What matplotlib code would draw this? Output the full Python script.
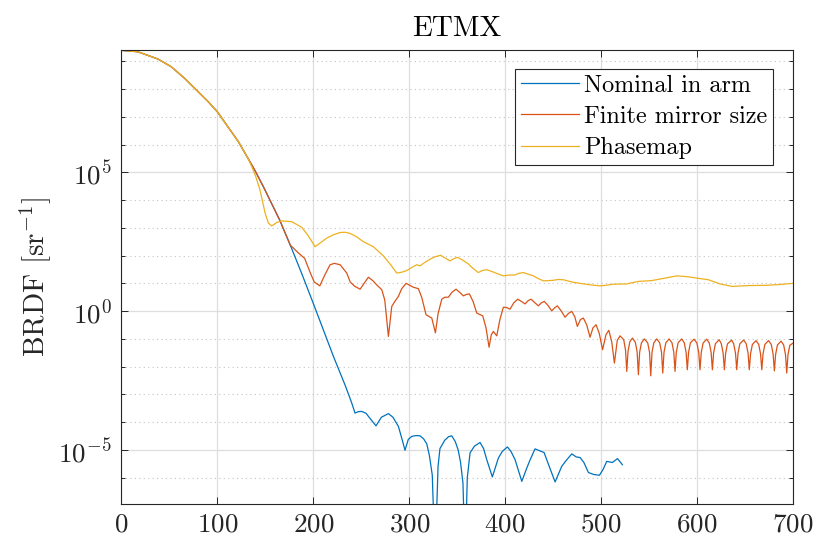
import numpy as np
import matplotlib
matplotlib.use("Agg")
import matplotlib.pyplot as plt
from matplotlib.ticker import FixedLocator, NullFormatter

plt.rcParams['font.family'] = 'serif'
plt.rcParams['font.serif'] = ['cmr10']
plt.rcParams['mathtext.fontset'] = 'cm'
plt.rcParams['axes.formatter.use_mathtext'] = True
plt.rcParams['axes.unicode_minus'] = False

# shared central lobe (all three curves overlap here), values as log10(BRDF)
head_x = [0, 17, 38, 52, 66, 80, 90, 100, 111, 122, 132]
head_log = [9.39, 9.34, 9.08, 8.80, 8.38, 7.90, 7.56, 7.18, 6.64, 6.10, 5.50]

nominal_x = head_x + [
    139, 148, 165, 176, 188, 200, 211, 221, 233, 240, 243.5, 247, 250.5, 255,
    260, 265.4, 271, 278.3, 283, 288.7, 292, 295.6, 299, 302.6, 307, 311.3,
    315, 318.3, 321, 324, 327, 330, 332, 337, 341, 344.3, 348, 351, 353.5,
    356, 358.2, 360.5, 363.4, 368, 373.8, 377.5, 380.8, 386.6, 392.9, 397,
    402.3, 406, 410.3, 417.3, 422.5, 426, 431.1, 436, 440.5, 446, 452, 458.9,
    463, 469.4, 474, 478, 482, 486.7, 492, 498.2, 502, 505.8, 511.7, 517,
    522.1]
nominal_log = head_log + [
    5.08, 4.48, 3.28, 2.38, 1.35, 0.28, -0.72, -1.63, -2.65, -3.3, -3.67,
    -3.62, -3.61, -3.68, -3.9, -4.13, -3.82, -3.69, -3.82, -4.15, -4.55,
    -5.01, -4.62, -4.51, -4.48, -4.49, -4.6, -4.78, -5.2, -5.9, -9.0, -5.6,
    -4.95, -4.65, -4.52, -4.49, -4.7, -5.0, -5.45, -6.2, -9.0, -6.0, -5.1,
    -4.86, -4.73, -4.95, -5.35, -5.97, -5.29, -5.05, -4.89, -5.05, -5.35,
    -6.13, -5.65, -5.35, -4.96, -5.03, -5.09, -5.6, -6.15, -5.59, -5.4,
    -5.14, -5.25, -5.27, -5.45, -5.81, -5.88, -5.91, -5.7, -5.41, -5.45,
    -5.31, -5.53]

finite_x = head_x + [
    139, 148, 165, 176, 184, 191, 197, 201, 206.8, 212, 217.5, 222, 228, 234.9,
    238.5, 243, 248.8, 253, 257.4, 262, 266, 271.4, 274.5, 278.3, 281.8, 285,
    288.7, 292, 296.7, 301, 304.3, 309.5, 313, 317.5, 321, 323.5, 327.3, 330,
    333.9, 337, 340.8, 344.5, 348.8, 352.5, 356.4, 359.5, 362.7, 366.5, 370.4,
    376.6, 380, 383.2, 385.5, 387.7, 391.2, 394.5, 398.1, 401.5, 405, 409,
    413.1, 416.9, 420.7, 424, 427, 431, 434.6, 437.7, 440.8, 444.7, 448.5,
    451.5, 454.4, 458.5, 462.4, 466, 469.4, 472.5, 475.2, 478.5, 481.5, 485,
    488.4, 491.5, 494.7, 498, 501.5, 505, 508, 511, 513.8, 516.8, 519.7,
    523.5, 525.4, 526.7, 528.0, 529.9, 532.6,
    535.6, 537.5, 538.8, 540.1, 542.0, 545.0,
    548.5, 550.4, 551.7, 553.0, 554.9, 557.9,
    561.0, 562.9, 564.2, 565.5, 567.4, 570.8,
    573.8, 575.7, 577.0, 578.3, 580.2, 583.9,
    586.6, 588.5, 589.8, 591.1, 593.0, 596.8,
    599.8, 601.7, 603.0, 604.3, 606.2, 610.0,
    612.7, 614.6, 615.9, 617.2, 619.1, 623.0,
    625.2, 627.1, 628.4, 629.7, 631.6, 636.0,
    638.1, 640.0, 641.3, 642.6, 644.5, 648.5,
    651.2, 653.1, 654.4, 655.7, 657.6, 661.4,
    664.2, 666.1, 667.4, 668.7, 670.6, 674.4,
    677.3, 679.2, 680.5, 681.8, 683.7, 687.5,
    690.2, 692.1, 693.4, 694.7, 696.6, 700.0]
finite_log = head_log + [
    5.08, 4.48, 3.28, 2.38, 2.11, 1.9, 1.37, 1.05, 0.91, 1.3, 1.67, 1.72, 1.67,
    1.37, 1.05, 0.9, 0.79, 1.0, 1.22, 1.1, 0.95, 0.77, 0.4, -0.91, 0.17, 0.35,
    0.53, 0.8, 1.0, 0.92, 0.86, 0.81, 0.5, -0.13, -0.2, -0.25, -0.78, -0.1,
    0.43, 0.5, 0.5, 0.68, 0.79, 0.68, 0.55, 0.6, 0.62, 0.35, -0.07, -0.17,
    -0.6, -1.3, -0.85, -0.73, -0.89, -0.3, 0.14, 0.13, 0.07, 0.3, 0.43, 0.35,
    0.26, 0.38, 0.43, 0.3, 0.19, 0.3, 0.35, 0.2, 0.01, 0.12, 0.19, 0.0, -0.22,
    -0.08, -0.01, -0.2, -0.55, -0.3, -0.25, -0.5, -0.94, -0.6, -0.49, -0.8,
    -1.39, -0.85, -0.69, -1.1, -1.87, -1.05, -0.89,
    -1.03, -1.40, -2.17, -1.45, -1.10, -0.97,
    -1.12, -1.47, -2.29, -1.48, -1.14, -1.00,
    -1.14, -1.48, -2.33, -1.48, -1.14, -1.00,
    -1.14, -1.48, -2.23, -1.48, -1.14, -1.00,
    -1.14, -1.48, -2.17, -1.48, -1.14, -1.00,
    -1.14, -1.48, -2.11, -1.48, -1.14, -1.01,
    -1.15, -1.49, -2.11, -1.49, -1.15, -1.01,
    -1.15, -1.49, -2.11, -1.50, -1.17, -1.03,
    -1.17, -1.51, -2.11, -1.52, -1.18, -1.04,
    -1.18, -1.52, -2.11, -1.52, -1.18, -1.04,
    -1.18, -1.52, -2.11, -1.53, -1.20, -1.06,
    -1.20, -1.54, -2.11, -1.54, -1.20, -1.06,
    -1.20, -1.55, -2.15, -1.56, -1.22, -1.08,
    -1.22, -1.57, -2.23, -1.57, -1.23, -1.15]

phasemap_x = head_x + [
    136, 140, 144.5, 149.8, 153.2, 156.7, 161.9, 167, 177.6, 188, 195, 201.9,
    207, 214, 221, 227.9, 233, 238.4, 245, 252.2, 262.6, 268, 273, 280, 287,
    292, 297.4, 304, 307.8, 311.3, 316, 321.7, 327, 332.8, 337, 342.5, 346,
    350.1, 355, 361.6, 366, 372, 376, 380.8, 386, 391, 398.1, 404, 410.3, 414,
    419, 424, 429.4, 434, 439.8, 445, 450.2, 455, 460.6, 466, 471, 478, 488,
    498.8, 505, 512.7, 526.7, 538.8, 552.7, 566.6, 578.8, 590, 599.6, 611.7,
    624, 636.2, 653, 672.6, 686, 700]
phasemap_log = head_log + [
    5.2, 4.85, 4.36, 3.53, 3.17, 3.07, 3.19, 3.25, 3.22, 3.02, 2.7, 2.32,
    2.45, 2.63, 2.75, 2.83, 2.84, 2.80, 2.68, 2.50, 2.32, 2.15, 1.99, 1.7,
    1.37, 1.4, 1.46, 1.6, 1.67, 1.63, 1.75, 1.87, 1.96, 2.01, 1.92, 1.81,
    1.88, 1.94, 1.85, 1.70, 1.55, 1.39, 1.46, 1.49, 1.43, 1.36, 1.27, 1.3,
    1.30, 1.36, 1.39, 1.33, 1.27, 1.18, 1.09, 1.1, 1.11, 1.14, 1.13, 1.08,
    1.04, 1.0, 0.95, 0.91, 0.93, 0.97, 0.98, 1.07, 1.1, 1.19, 1.27, 1.24,
    1.19, 1.13, 0.98, 0.89, 0.92, 0.93, 0.96, 1.0]

labels = ['Nominal in arm', 'Finite mirror size', 'Phasemap']
colors = ['#0072BD', '#D95319', '#EDB120']
xticks = [0, 100, 200, 300, 400, 500, 600, 700]

fig = plt.figure(figsize=(8.15, 5.4), dpi=100)
ax = fig.add_axes([0.1489, 0.0667, 0.8242, 0.8402])

series = [(nominal_x, nominal_log), (finite_x, finite_log), (phasemap_x, phasemap_log)]
for (xs, ls), lab, c in zip(series, labels, colors):
    ax.plot(xs, 10.0 ** np.array(ls), color=c, lw=0.9, label=lab)

ax.set_yscale('log')
ax.set_xlim(0, 700)
ax.set_ylim(10 ** -6.944, 10 ** 9.393)
ax.set_xticks(xticks)
ax.yaxis.set_major_locator(FixedLocator([1e-5, 1e0, 1e5]))
ax.yaxis.set_major_formatter(plt.FuncFormatter(lambda v, p: r'$10^{%d}$' % round(np.log10(v))))
ax.yaxis.set_minor_locator(FixedLocator([10.0 ** k for k in range(-6, 10)]))
ax.yaxis.set_minor_formatter(NullFormatter())

ax.grid(True, which='major', color='#dedede', lw=0.9, ls='-')
ax.grid(True, which='minor', axis='y', color='#c4c4c4', lw=0.8, ls=(0, (1, 3)))
ax.set_axisbelow(True)

dark = '#262626'
for s in ax.spines.values():
    s.set_color(dark)
    s.set_linewidth(0.8)
ax.tick_params(which='both', direction='in', top=True, right=True, color=dark,
               labelcolor=dark, width=0.7)
ax.tick_params(which='major', length=5, labelsize=19.5)
ax.tick_params(axis='x', which='major', pad=6)
ax.tick_params(axis='y', which='major', pad=7)
ax.tick_params(which='minor', length=3)

ax.set_title('ETMX', fontsize=21, pad=10, color='black')
ax.set_ylabel(r'BRDF $[\mathrm{sr}^{-1}]$', fontsize=21, labelpad=4, color=dark)

leg = ax.legend(loc='upper right', bbox_to_anchor=(0.9707, 0.9594), borderaxespad=0,
                fontsize=17.4, handlelength=2.4, handletextpad=0.2, labelspacing=0.37,
                borderpad=0.25, fancybox=False, framealpha=1, edgecolor=dark)
leg.get_frame().set_linewidth(0.8)
for t in leg.get_texts():
    t.set_color('black')

fig.savefig('out.png', dpi=100)
